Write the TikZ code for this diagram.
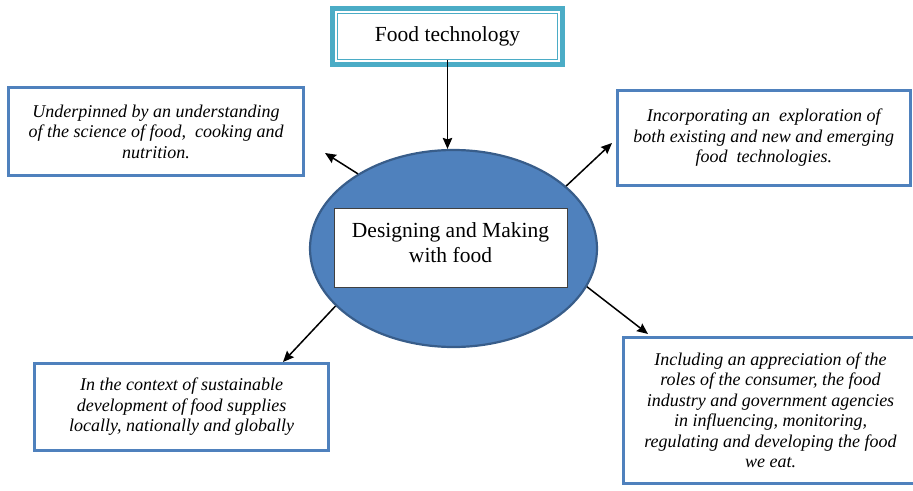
\documentclass[tikz,border=0pt]{standalone}
\usepackage{fontspec}
\setmainfont{Liberation Serif}
\usetikzlibrary{arrows.meta,shapes.geometric,fit}

\definecolor{boxblue}{HTML}{4F81BD}
\definecolor{ringblue}{HTML}{385D8A}
\definecolor{tealframe}{HTML}{4BACC6}

\tikzset{
  infobox/.style={draw=boxblue, line width=3pt, fill=white, rectangle,
    inner sep=0pt, align=center,
    font=\fontsize{18}{20.5}\selectfont\itshape},
  titlebox/.style={draw=tealframe, line width=1.1pt, fill=white, rectangle,
    inner sep=0pt, font=\fontsize{21.5}{25}\selectfont},
  hub/.style={ellipse, draw=ringblue, line width=2.2pt, fill=boxblue,
    inner sep=0pt},
  corebox/.style={draw=black!75, line width=1pt, fill=white, rectangle,
    inner sep=0pt},
  coretext/.style={align=center, inner sep=0pt,
    font=\fontsize{21.5}{25}\selectfont},
  link/.style={draw=black, line width=1.5pt,
    -{Stealth[length=11pt, width=9.5pt, inset=1.5pt]}}
}

\begin{document}
\begin{tikzpicture}[x=1pt, y=-1pt]
  \useasboundingbox (0,0) rectangle (913,490);
  \clip (0,0) rectangle (913,490);

  % heading with its double teal frame
  \node[titlebox, minimum width=220, minimum height=46] (title) at (447.5,36.5)
    {Food technology};
  \node[fit=(title), inner sep=4.4pt, draw=tealframe, line width=5pt] (titleframe) {};

  % central ellipse with the inner label box
  \node[hub, minimum width=287, minimum height=197] (hub) at (453.5,248.5) {};
  \node[corebox, minimum width=233, minimum height=79] (core) at (450.5,247.5) {};
  \node[coretext] (coretxt) at (450.5,243) {Designing and Making\\with food};

  % surrounding statements
  \node[infobox, minimum width=295, minimum height=88] (tl) at (156,131.5)
    {Underpinned by an understanding\\of the science of food,\ \ cooking and\\nutrition.};
  \node[infobox, minimum width=292.5, minimum height=95] (tr) at (763.75,138)
    {Incorporating an\ \ exploration of\\both existing and new and emerging\\food\ \ technologies.};
  \node[infobox, minimum width=294, minimum height=87] (bl) at (181.5,407)
    {In the context of sustainable\\development of food supplies\\locally, nationally and globally};
  \node[infobox, minimum width=294, minimum height=146] (br) at (770.5,410.5)
    {Including an appreciation of the\\roles of the consumer, the food\\industry and government agencies\\in influencing, monitoring,\\regulating and developing the food\\we eat.};

  % arrow end points in front of the statements
  \coordinate (tlend) at (325,153);
  \coordinate (trend) at (612,143);
  \coordinate (blend) at (283,362);
  \coordinate (brend) at (648,334);

  % connectors
  \draw[link] (title.south) -- (title.south |- hub.north);
  \draw[link] (hub.142.5) -- (tlend);
  \draw[link] (hub.29.7) -- (trend);
  \draw[link] (hub.206.7) -- (blend);
  \draw[link] (hub.-16) -- (brend);
\end{tikzpicture}
\end{document}
